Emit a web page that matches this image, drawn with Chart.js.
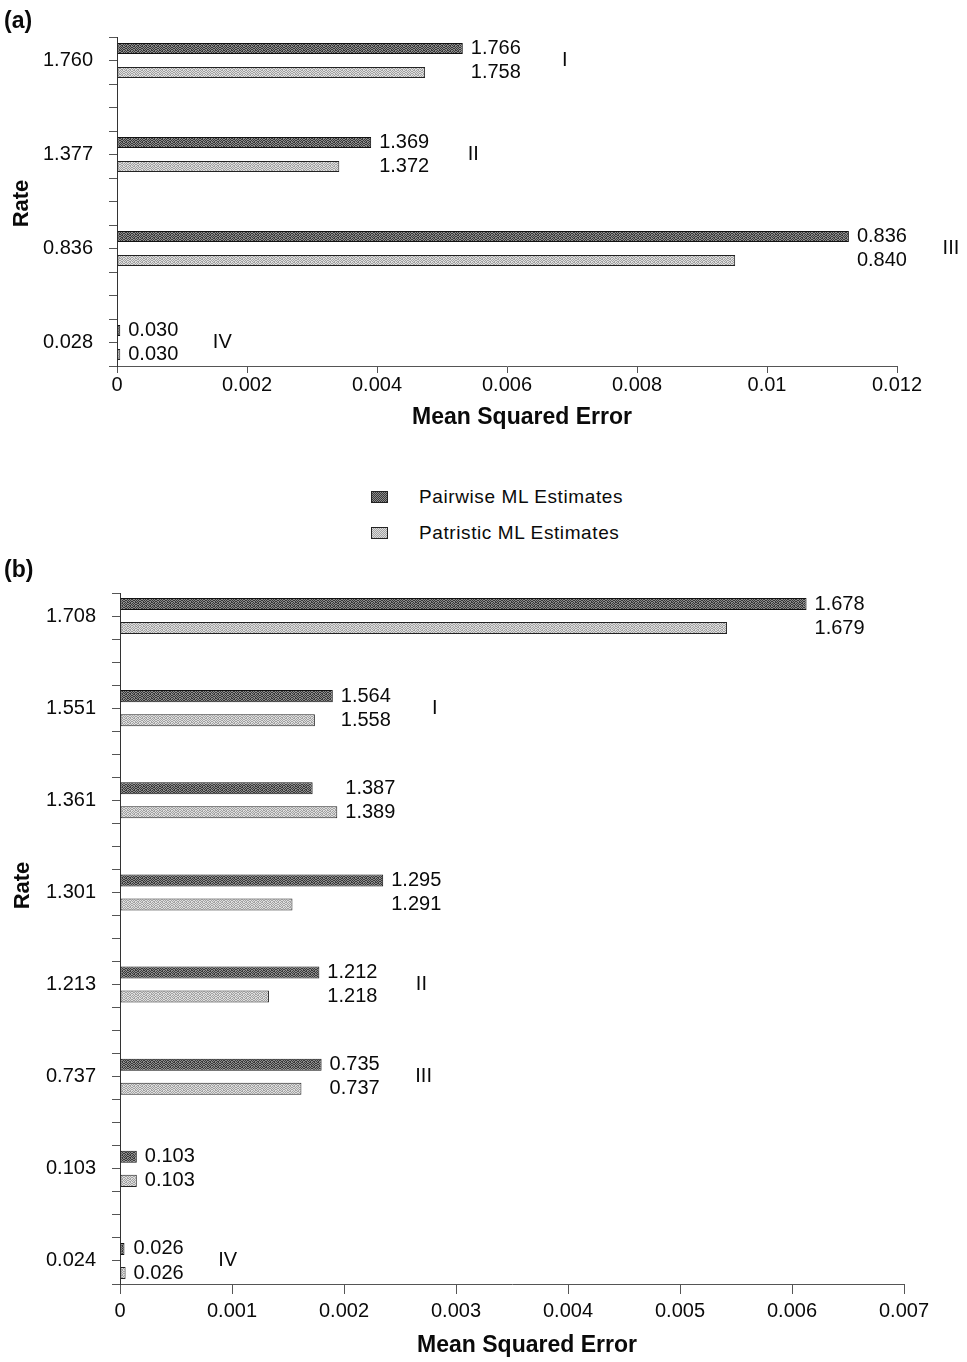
<!DOCTYPE html>
<html>
<head>
<meta charset="utf-8">
<title>Mean squared error of rate estimates</title>
<script src="https://cdn.jsdelivr.net/npm/chart.js@4.4.1/dist/chart.umd.min.js"></script>
<style>
  body { margin: 0; background: #fff; width: 967px; height: 1362px; position: relative; overflow: hidden;
         font-family: "Liberation Sans", Arial, Helvetica, sans-serif; color: #0a0a0a; }
  canvas { position: absolute; left: 0; }
  #chartA { top: 0; }
  #chartB { top: 560px; }
  .panel-tag { position: absolute; left: 4px; font-weight: bold; font-size: 23px; line-height: 23px; z-index: 2; }
  #legend { position: absolute; left: 371px; top: 479px; z-index: 2; }
  .item { display: flex; align-items: center; height: 36px; }
  .sw { width: 17px; height: 12px; margin-right: 31px; box-sizing: border-box; border: 1px solid #222; }
  .sw.dark { background: repeating-conic-gradient(#3a3a3a 0 25%, #8a8a8a 0 50%) 0 0 / 2px 2px; }
  .sw.light { background: repeating-conic-gradient(#a4a4a4 0 25%, #dcdcdc 0 50%) 0 0 / 2px 2px; }
  .lbl { font-size: 19px; letter-spacing: 0.6px; }
</style>
</head>
<body>
<canvas id="chartA" width="967" height="440"></canvas>
<canvas id="chartB" width="967" height="802"></canvas>
<div class="panel-tag" style="top:9px">(a)</div>
<div class="panel-tag" style="top:558px">(b)</div>
<div id="legend">
  <div class="item"><span class="sw dark"></span><span class="lbl">Pairwise ML Estimates</span></div>
  <div class="item"><span class="sw light"></span><span class="lbl">Patristic ML Estimates</span></div>
</div>
<script>
// ---- Panel (a) ----
const rateLabelsA   = ['1.760', '1.377', '0.836', '0.028'];
const pairwiseMseA  = [0.00532, 0.00391, 0.01126, 0.00005];
const patristicMseA = [0.00474, 0.00342, 0.00951, 0.00005];
const pairwiseEstA  = ['1.766', '1.369', '0.836', '0.030'];
const patristicEstA = ['1.758', '1.372', '0.840', '0.030'];
const groupsA       = ['I', 'II', 'III', 'IV'];
const mseTicksA     = ['0', '0.002', '0.004', '0.006', '0.008', '0.01', '0.012'];

// ---- Panel (b) ----
const rateLabelsB   = ['1.708', '1.551', '1.361', '1.301', '1.213', '0.737', '0.103', '0.024'];
const pairwiseMseB  = [0.00613, 0.00190, 0.00172, 0.00235, 0.00178, 0.00180, 0.00015, 0.00004];
const patristicMseB = [0.00542, 0.00174, 0.00194, 0.00154, 0.00133, 0.00162, 0.00015, 0.00005];
const pairwiseEstB  = ['1.678', '1.564', '1.387', '1.295', '1.212', '0.735', '0.103', '0.026'];
const patristicEstB = ['1.679', '1.558', '1.389', '1.291', '1.218', '0.737', '0.103', '0.026'];
const groupsB       = ['', 'I', '', '', 'II', 'III', '', 'IV'];
const mseTicksB     = ['0', '0.001', '0.002', '0.003', '0.004', '0.005', '0.006', '0.007'];

const FONT = '"Liberation Sans", Arial, Helvetica, sans-serif';
Chart.defaults.font.family = FONT;
Chart.defaults.color = '#0a0a0a';

// Stippled fills imitating halftone shading (fixed irregular dot tile)
const DOTS = [
  '10100110', '01011001', '10100101', '01101010',
  '10010101', '01101010', '10100110', '01011001'
];
function stipple(base, dot) {
  const c = document.createElement('canvas');
  c.width = 8; c.height = 8;
  const g = c.getContext('2d');
  g.fillStyle = base; g.fillRect(0, 0, 8, 8);
  g.fillStyle = dot;
  DOTS.forEach((row, y) => [...row].forEach((b, x) => { if (b === '1') g.fillRect(x, y, 1, 1); }));
  return g.createPattern(c, 'repeat');
}
const darkFill  = stipple('#8c8c8c', '#383838');
const lightFill = stipple('#dedede', '#a2a2a2');

// Estimated rates printed beside each pair of bars, plus the group numerals
const valueLabels = {
  id: 'valueLabels',
  afterDatasetsDraw(chart, args, o) {
    const ctx = chart.ctx;
    const ys = chart.scales.y;
    const m0 = chart.getDatasetMeta(0), m1 = chart.getDatasetMeta(1);
    ctx.save();
    ctx.font = '20px ' + FONT;
    ctx.fillStyle = '#0a0a0a';
    ctx.textBaseline = 'middle';
    o.pairwise.forEach((txt, i) => {
      const x = Math.max(m0.data[i].x, m1.data[i].x) + o.gap;
      ctx.textAlign = 'left';
      ctx.fillText(txt, x, m0.data[i].y);
      ctx.fillText(o.patristic[i], x, m1.data[i].y);
      const w = Math.max(ctx.measureText(txt).width, ctx.measureText(o.patristic[i]).width);
      if (o.groups[i]) {
        ctx.textAlign = 'center';
        ctx.fillText(o.groups[i], x + w + o.groupGap, ys.getPixelForValue(i));
      }
    });
    ctx.restore();
  }
};

// Bold axis captions
const axisCaptions = {
  id: 'axisCaptions',
  afterDraw(chart, args, o) {
    const { ctx, chartArea: a } = chart;
    ctx.save();
    ctx.fillStyle = '#0a0a0a';
    ctx.textAlign = 'center';
    ctx.textBaseline = 'middle';
    ctx.font = 'bold 23px ' + FONT;
    ctx.fillText(o.xText, (a.left + a.right) / 2 + o.xShift, a.bottom + o.xDrop);
    ctx.font = 'bold 22px ' + FONT;
    ctx.translate(o.yX, (a.top + a.bottom) / 2 + o.yShift);
    ctx.rotate(-Math.PI / 2);
    ctx.fillText(o.yText, 0, 0);
    ctx.restore();
  }
};

function buildPanel(id, p) {
  const n = p.rates.length;
  const toPoints = arr => arr.map((v, i) => ({ x: v, y: i }));
  return new Chart(document.getElementById(id), {
    type: 'bar',
    data: {
      datasets: [
        { label: 'Pairwise ML Estimates', data: toPoints(p.pairwise),
          backgroundColor: darkFill, borderColor: '#111', borderWidth: 1, borderSkipped: false },
        { label: 'Patristic ML Estimates', data: toPoints(p.patristic),
          backgroundColor: lightFill, borderColor: '#222', borderWidth: 1, borderSkipped: false }
      ]
    },
    options: {
      indexAxis: 'y',
      responsive: false,
      animation: false,
      devicePixelRatio: 1,
      categoryPercentage: p.catPct,
      barPercentage: p.barPct,
      layout: { padding: { left: 0, right: p.padRight, top: p.padTop, bottom: 0 } },
      plugins: {
        legend: { display: false },
        tooltip: { enabled: false },
        valueLabels: { pairwise: p.pairEst, patristic: p.patrEst, groups: p.groups, gap: 8, groupGap: 44 },
        axisCaptions: { xText: 'Mean Squared Error', xShift: 15, xDrop: p.xDrop,
                        yText: 'Rate', yX: p.yX, yShift: p.yShift }
      },
      scales: {
        x: {
          type: 'linear', min: 0, max: p.xMax, offset: false,
          afterFit: s => { s.height = p.xAxisH; },
          ticks: { stepSize: p.xStep, font: { size: 20 }, color: '#0a0a0a', padding: p.xTickPad,
                   autoSkip: false, maxRotation: 0,
                   callback: (v, i) => p.xTicks[i] },
          grid: { drawOnChartArea: false, drawTicks: true, tickLength: p.xTickLen, color: '#555', offset: false },
          border: { display: true, color: '#555', width: 1 }
        },
        y: {
          type: 'linear', min: -0.25, max: n - 0.75, reverse: true, offset: false,
          afterFit: s => { s.width = p.yAxisW; },
          ticks: { stepSize: 0.25, font: { size: 20 }, color: '#0a0a0a', padding: 16, autoSkip: false,
                   callback: v => {
                     const k = Math.round(v);
                     return Math.abs(v - k) < 1e-6 && p.rates[k] !== undefined ? p.rates[k] : '';
                   } },
          grid: { drawOnChartArea: false, drawTicks: true, tickLength: 8, color: '#555', offset: false },
          border: { display: true, color: '#333', width: 1 }
        }
      }
    },
    plugins: [valueLabels, axisCaptions]
  });
}

buildPanel('chartA', {
  rates: rateLabelsA, pairwise: pairwiseMseA, patristic: patristicMseA,
  pairEst: pairwiseEstA, patrEst: patristicEstA, groups: groupsA, xTicks: mseTicksA,
  xMax: 0.012, xStep: 0.002, catPct: 2.04, barPct: 0.46,
  padRight: 70, padTop: 37, xAxisH: 74, yAxisW: 117,
  xTickPad: 0, xTickLen: 7, xDrop: 52, yX: 22, yShift: 2
});

buildPanel('chartB', {
  rates: rateLabelsB, pairwise: pairwiseMseB, patristic: patristicMseB,
  pairEst: pairwiseEstB, patrEst: patristicEstB, groups: groupsB, xTicks: mseTicksB,
  xMax: 0.007, xStep: 0.001, catPct: 2.09, barPct: 0.5,
  padRight: 63, padTop: 33, xAxisH: 78, yAxisW: 120,
  xTickPad: 5, xTickLen: 10, xDrop: 62, yX: 23, yShift: -53
});
</script>
</body>
</html>
